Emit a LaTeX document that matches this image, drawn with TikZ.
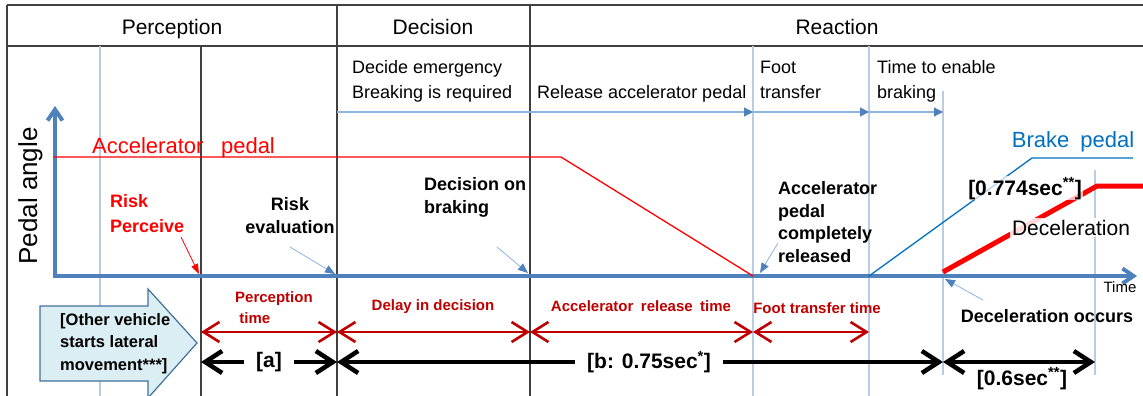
\documentclass[tikz,border=0pt]{standalone}
\usepackage{fontspec}
\setmainfont{Liberation Sans}
\usetikzlibrary{arrows.meta,positioning,calc}
\definecolor{axisblue}{RGB}{79,129,189}
\definecolor{markblue}{RGB}{184,204,228}
\definecolor{guideblue}{RGB}{141,180,226}
\definecolor{brakeblue}{RGB}{0,112,192}
\definecolor{delayred}{RGB}{192,0,0}
\definecolor{edgegray}{RGB}{64,64,64}
\definecolor{startfill}{RGB}{218,238,243}
\definecolor{startedge}{RGB}{65,113,156}
\newcommand{\fsz}[2]{\fontsize{#1}{#2}\selectfont}

\begin{document}
\begin{tikzpicture}[x=1pt, y=-1pt,
        every node/.style={inner sep=0pt},
        phase/.style={edgegray, line width=1.3pt},
        markline/.style={markblue, line width=1.3pt},
        pedalaxis/.style={axisblue, line width=4pt, -{Straight Barb[length=11pt,width=15pt]}},
        stepline/.style={guideblue, line width=1.2pt, -{Triangle[length=9pt,width=9pt,color=axisblue]}},
        pointer/.style={guideblue, line width=0.8pt, -{Triangle[length=10pt,width=8pt,color=axisblue]}},
        redpointer/.style={red, line width=0.8pt, -{Triangle[length=10pt,width=7pt]}},
        head/.style={font=\fsz{21}{25}},
        phasetext/.style={font=\fsz{18}{24.5}, align=left, anchor=base west},
        boldnote/.style={font=\bfseries\fsz{18}{22.5}},
        delaynote/.style={font=\bfseries\fsz{15}{21}, text=delayred},
        delaydim/.style={delayred, line width=2.6pt, {Straight Barb[length=16pt,width=20pt]}-{Straight Barb[length=16pt,width=20pt]}},
        totaldim/.style={black, line width=4.5pt, {Straight Barb[length=17pt,width=22pt]}-{Straight Barb[length=17pt,width=22pt]}},
        dimtext/.style={font=\bfseries\fsz{21}{25}, fill=white, inner xsep=12pt, inner ysep=2pt}
    ]
    \path[use as bounding box] (0,0) rectangle (1143,396);
    \clip (0,0) rectangle (1143,396);

    % Phase table
    \draw[edgegray, line width=2pt] (7,5) -- (1143,5);
    \draw[phase] (7,46) -- (1143,46);
    \draw[phase] (7,5) -- (7,396);
    \draw[phase] (201,46) -- (201,396);
    \draw[phase] (337,5) -- (337,396);
    \draw[phase] (530,5) -- (530,396);
    \draw[markline] (100,46) -- (100,396);
    \draw[markline] (753,46) -- (753,396);
    \draw[markline] (869,46) -- (869,396);
    \draw[markline] (943,91) -- (943,375);
    \draw[markline] (1095,170) -- (1095,375);

    \node[head, anchor=base] (perception) at (172,35) {Perception};
    \node[head, anchor=base] (decision) at (433,35) {Decision};
    \node[head, anchor=base] (reaction) at (837,35) {Reaction};

    % Steps of the reaction
    \node[phasetext] (decide) at (352,98) {Decide emergency\\Breaking is required};
    \node[phasetext] (release) at (537,98) {Release accelerator pedal};
    \node[phasetext] (foot) at (760,98) {Foot\\transfer};
    \node[phasetext] (enable) at (877,98) {Time to enable\\braking};

    \coordinate (sE) at (337,112);
    \coordinate (sR) at (753,112);
    \coordinate (sF) at (869,112);
    \coordinate (sB) at (943,112);
    \draw[stepline] (sE) -- (sR);
    \draw[stepline] (sR) -- (sF);
    \draw[stepline] (sF) -- (sB);

    % Axes
    \coordinate (xstart) at (53,276);
    \coordinate (xend) at (1137,276);
    \coordinate (ystart) at (55,278);
    \coordinate (yend) at (55,106);
    \draw[pedalaxis] (xstart) -- (xend);
    \draw[pedalaxis] (ystart) -- (yend);
    \node[font=\fsz{26}{30}, rotate=90, anchor=base] (ylabel) at (37,196) {Pedal angle};
    \node[font=\fsz{15}{18}, anchor=base] (xlabel) at (1120,292) {Time};

    % Pedal curves
    \draw[red, line width=1.3pt] (53,157) -- (561,157) -- (753,276);
    \draw[brakeblue, line width=1.3pt] (869,276) -- (1032,158) -- (1133,158);
    \draw[red, line width=5pt] (943,272) -- (1097,186) -- (1143,186);
    \node[font=\fsz{22}{26}, text=red, anchor=base west] (accel) at (92,153) {Accelerator\hspace{0.8em}pedal};
    \node[font=\fsz{22}{26}, text=brakeblue, anchor=base] (brake) at (1073,147) {Brake\hspace{0.5em}pedal};
    \node[font=\bfseries\fsz{21}{25}, anchor=base, fill=white, fill opacity=0.7, text opacity=1, inner sep=1pt] (braketime) at (1025,195) {[0.774sec\textsuperscript{**}]};
    \node[font=\fsz{21}{25}, anchor=base, fill=white, fill opacity=0.85, text opacity=1, inner sep=2pt] (decel) at (1071,235) {Deceleration};

    % Events on the time axis
    \node[boldnote, text=red, align=left, anchor=base west, font=\bfseries\fsz{18}{25}] (riskp) at (110,232) {Risk\\Perceive};
    \node[boldnote, align=center, anchor=base] (riske) at (290,233) {Risk\\evaluation};
    \node[boldnote, align=left, anchor=base west] (decb) at (424,213) {Decision on\\braking};
    \node[boldnote, align=left, anchor=base west] (released) at (778,262) {Accelerator\\pedal\\completely\\released};
    \node[boldnote, anchor=base] (decocc) at (1047,322) {Deceleration occurs};

    \coordinate (pP) at (181,237);
    \coordinate (aP) at (199,274);
    \coordinate (pE) at (290,247);
    \coordinate (aE) at (335,274);
    \coordinate (pD) at (497,247);
    \coordinate (aD) at (528,273);
    \coordinate (pR) at (778,243);
    \coordinate (aR) at (760,273);
    \coordinate (pB) at (983,300);
    \coordinate (aB) at (945,279);
    \draw[redpointer] (pP) -- (aP);
    \draw[pointer] (pE) -- (aE);
    \draw[pointer] (pD) -- (aD);
    \draw[pointer] (pR) -- (aR);
    \draw[pointer] (pB) -- (aB);

    % Start event
    \draw[startedge, fill=startfill, line width=1.2pt] (40,306) -- (148,306) -- (148,289) -- (197,343) -- (148,398) -- (148,381) -- (40,381) -- cycle;
    \node[font=\bfseries\fsz{16.5}{22.5}, align=left, anchor=base west] (othercar) at (60,370) {[Other vehicle\\starts lateral\\movement***]};

    % Time spans
    \foreach \n/\x in {P/201,E/337,D/530,R/753,F/869,B/943,S/1095}{
        \coordinate (r\n) at (\x,332);
        \coordinate (k\n) at (\x,362);
    }
    \node[delaynote, align=left, anchor=base west] (perct) at (235,323) {Perception\\\ time};
    \node[delaynote, anchor=base] (delayd) at (433,310) {Delay in decision};
    \node[delaynote, anchor=base] (accrel) at (641,311) {Accelerator\hspace{0.5em}release\hspace{0.5em}time};
    \node[delaynote, anchor=base] (foott) at (817,313) {Foot transfer time};
    \draw[delaydim] (rP) -- (rE);
    \draw[delaydim] (rE) -- (rD);
    \draw[delaydim] (rD) -- (rR);
    \draw[delaydim] (rR) -- (rF);

    \draw[totaldim] (kP) -- node[dimtext] (dima) {[a]} (kE);
    \draw[totaldim] (kE) -- node[dimtext, pos=0.515] (dimb) {[b: 0.75sec\textsuperscript{*}]} (kB);
    \draw[totaldim] (kB) -- (kS);
    \node[font=\bfseries\fsz{21}{25}, anchor=base] (dimc) at (1022,385) {[0.6sec\textsuperscript{**}]};
\end{tikzpicture}
\end{document}
